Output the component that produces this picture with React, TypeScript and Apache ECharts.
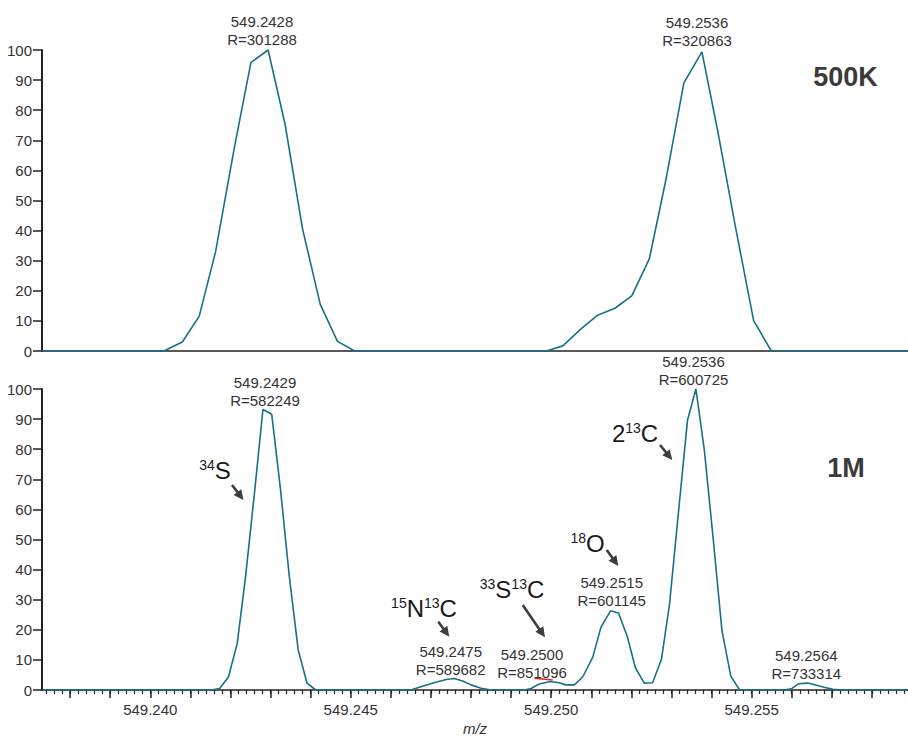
import React, { useEffect, useRef } from 'react';
import * as echarts from 'echarts';

const X_MIN = 549.2373;
const X_MAX = 549.2589;

// 500K spectrum (top)
const mz500K = [549.2373, 549.24034, 549.2408, 549.24122, 549.24163, 549.24209, 549.24251, 549.24294, 549.24336, 549.2438, 549.24424, 549.24467, 549.2451,
  549.24988, 549.25029, 549.25073, 549.25116, 549.25159, 549.25201, 549.25245, 549.25286, 549.25331, 549.25376, 549.25417, 549.2546, 549.25505, 549.25549, 549.2589];
const int500K = [0, 0, 3, 11.5, 33, 67, 95.8, 100, 75.5, 40.5, 15.5, 3.2, 0,
  0, 1.7, 7.2, 11.9, 14.2, 18.3, 30.7, 56.8, 89.1, 99.4, 72, 41, 10.1, 0, 0];

// 1M spectrum (bottom)
const mz1M = [549.2373, 549.24152, 549.24173, 549.24195, 549.24217, 549.24238, 549.2426, 549.24281, 549.24303, 549.24325, 549.24347, 549.24369, 549.24391, 549.24413,
  549.2465, 549.24675, 549.24708, 549.24738, 549.24758, 549.24779, 549.248, 549.24825, 549.2485,
  549.24933, 549.2495, 549.2497, 549.24998, 549.2502, 549.25037, 549.25058, 549.25079, 549.25104, 549.25124, 549.25148, 549.25168, 549.2519, 549.2521, 549.25232, 549.25253, 549.25275, 549.25295, 549.25316, 549.2534, 549.25361, 549.25382, 549.25404, 549.25426, 549.25448, 549.2547,
  549.25581, 549.25599, 549.25617, 549.2564, 549.25662, 549.25683, 549.25703, 549.25723, 549.2589];
const int1M = [0, 0, 0.5, 4.3, 15.5, 38, 65.5, 93.2, 91.6, 66.5, 37.5, 13.3, 2.3, 0,
  0, 1.1, 2.4, 3.5, 3.8, 3.0, 1.7, 0.6, 0,
  0, 0.5, 2.0, 2.8, 2.4, 1.7, 1.7, 4.4, 11, 20.8, 26.3, 25.6, 17.7, 7.4, 2.3, 2.4, 10.2, 28.3, 57, 89.6, 100, 79.7, 50.4, 19.7, 4.6, 0,
  0, 0.4, 2.1, 2.3, 1.6, 0.8, 0.2, 0, 0];

// red highlight segment
const redMz = [549.24958, 549.25004];
const redInt = [3.9, 3.3];

const xLabelValues = [549.24, 549.245, 549.25, 549.255];
const majorTickValues = [549.238, 549.239, 549.24, 549.241, 549.242, 549.243, 549.244, 549.245, 549.246, 549.247, 549.248, 549.249, 549.25, 549.251, 549.252, 549.253, 549.254, 549.255, 549.256, 549.257, 549.258];
const minorTickValues: number[] = [];
for (let i = 0; i < 200; i++) {
  const v = Math.round((549.2374 + i * 0.0002) * 1e4) / 1e4;
  if (v > X_MAX) break;
  minorTickValues.push(v);
}

const peakLabels500K = [
  { mz: '549.2428', r: 'R=301288', x: 262, y: 12 },
  { mz: '549.2536', r: 'R=320863', x: 697, y: 13.5 },
];
const peakLabels1M = [
  { mz: '549.2429', r: 'R=582249', x: 265, y: 373 },
  { mz: '549.2536', r: 'R=600725', x: 693.5, y: 352 },
  { mz: '549.2515', r: 'R=601145', x: 611.7, y: 573.5 },
  { mz: '549.2475', r: 'R=589682', x: 450.7, y: 642 },
  { mz: '549.2500', r: 'R=851096', x: 532, y: 645 },
  { mz: '549.2564', r: 'R=733314', x: 806.3, y: 646.5 },
];

const isotopeLabels = [
  { text: '{s|34}{b|S}', x: 215, y: 470 },
  { text: '{b|2}{s|13}{b|C}', x: 635, y: 433 },
  { text: '{s|18}{b|O}', x: 587.5, y: 543 },
  { text: '{s|15}{b|N}{s|13}{b|C}', x: 424, y: 608 },
  { text: '{s|33}{b|S}{s|13}{b|C}', x: 512, y: 589 },
];
const arrows = [
  [232, 485, 243.5, 500],
  [660, 445, 672.3, 460],
  [606.7, 550, 618.3, 566],
  [438.3, 621.7, 449.3, 636.7],
  [522.7, 605, 545, 637.3],
];

const FONT = '"Liberation Sans", Arial, Helvetica, sans-serif';
const LINE = '#17708a';
const AXIS = '#222';

function zip(a: number[], b: number[]) {
  return a.map((v, i) => [v, b[i]]);
}

function arrow(x1: number, y1: number, x2: number, y2: number) {
  const dx = x2 - x1, dy = y2 - y1;
  const L = Math.hypot(dx, dy);
  const ux = dx / L, uy = dy / L;
  const hl = 10, hw = 4.8;
  const bx = x2 - ux * hl, by = y2 - uy * hl;
  return [
    { type: 'line', shape: { x1, y1, x2: bx + ux, y2: by + uy }, style: { stroke: '#3d3d3d', lineWidth: 2.6 } },
    { type: 'polygon', shape: { points: [[x2, y2], [bx - uy * hw, by + ux * hw], [bx + uy * hw, by - ux * hw]] }, style: { fill: '#3d3d3d' } },
  ];
}

function yAxis(gridIndex: number) {
  return {
    type: 'value', gridIndex, min: 0, max: 100, interval: 10,
    axisLine: { show: true, lineStyle: { color: AXIS, width: 2 } },
    axisTick: { show: true, length: 9, lineStyle: { color: AXIS, width: 1.5 } },
    axisLabel: { color: '#333', fontSize: 15, margin: 10, fontFamily: FONT },
    splitLine: { show: false },
  };
}

export default function App() {
  const ref = useRef<HTMLDivElement>(null);
  useEffect(() => {
    document.body.style.margin = '0';
    const chart = echarts.init(ref.current!, null, { renderer: 'svg' });
    const graphics: any[] = [];
    [...peakLabels500K, ...peakLabels1M].forEach((p) => {
      graphics.push({
        type: 'text', x: p.x, y: p.y,
        style: { text: p.mz + '\n' + p.r, align: 'center', verticalAlign: 'top', lineHeight: 18, fontSize: 15, fontFamily: FONT, fill: '#333' },
      });
    });
    isotopeLabels.forEach((l) => {
      graphics.push({
        type: 'text', x: l.x, y: l.y,
        style: {
          text: l.text, align: 'center', verticalAlign: 'middle', fontFamily: FONT, fill: '#1a1a1a',
          rich: {
            s: { fontSize: 14, verticalAlign: 'top', fill: '#1a1a1a', fontFamily: FONT, lineHeight: 24 },
            b: { fontSize: 24, fill: '#1a1a1a', fontFamily: FONT, lineHeight: 24 },
          },
        },
      });
    });
    arrows.forEach((a) => graphics.push(...arrow(a[0], a[1], a[2], a[3])));
    graphics.push({ type: 'text', x: 845.5, y: 77, style: { text: '500K', align: 'center', verticalAlign: 'middle', fontSize: 27, fontWeight: 'bold', fontFamily: FONT, fill: '#3a3a3a' } });
    graphics.push({ type: 'text', x: 846, y: 468, style: { text: '1M', align: 'center', verticalAlign: 'middle', fontSize: 27, fontWeight: 'bold', fontFamily: FONT, fill: '#3a3a3a' } });

    chart.setOption({
      animation: false,
      textStyle: { fontFamily: FONT },
      grid: [
        { left: 42, right: 0, top: 50, height: 301, outerBoundsMode: 'none', containLabel: false },
        { left: 42, right: 0, top: 389, height: 301, outerBoundsMode: 'none', containLabel: false },
      ],
      xAxis: [
        {
          type: 'value', gridIndex: 0, min: X_MIN, max: X_MAX,
          axisLine: { show: true, onZero: false, lineStyle: { color: AXIS, width: 1.5 } },
          axisTick: { show: false }, axisLabel: { show: false }, splitLine: { show: false },
        },
        {
          type: 'value', gridIndex: 1, min: X_MIN, max: X_MAX, position: 'bottom',
          axisLine: { show: true, onZero: false, lineStyle: { color: AXIS, width: 1.5 } },
          axisTick: { show: true, customValues: majorTickValues, length: 8, lineStyle: { color: AXIS, width: 1.5 } },
          axisLabel: { show: true, customValues: xLabelValues, formatter: (v: number) => v.toFixed(3), color: '#333', fontSize: 15, margin: 12, fontFamily: FONT },
          splitLine: { show: false },
          name: 'm/z', nameLocation: 'middle', nameGap: 31,
          nameTextStyle: { fontStyle: 'italic', fontSize: 15, color: '#333', fontFamily: FONT },
        },
        {
          type: 'value', gridIndex: 1, min: X_MIN, max: X_MAX, position: 'bottom',
          axisLine: { show: false, onZero: false },
          axisTick: { show: true, customValues: minorTickValues, length: 4, lineStyle: { color: AXIS, width: 1.2 } },
          axisLabel: { show: false }, splitLine: { show: false },
        },
      ],
      yAxis: [yAxis(0), yAxis(1)],
      series: [
        {
          type: 'line', xAxisIndex: 0, yAxisIndex: 0, data: zip(mz500K, int500K),
          showSymbol: false, lineStyle: { color: LINE, width: 1.6 }, itemStyle: { color: LINE }, silent: true,
        },
        {
          type: 'line', xAxisIndex: 1, yAxisIndex: 1, data: zip(mz1M, int1M),
          showSymbol: false, lineStyle: { color: LINE, width: 1.6 }, itemStyle: { color: LINE }, silent: true,
        },
        {
          type: 'line', xAxisIndex: 1, yAxisIndex: 1, data: zip(redMz, redInt), z: 5,
          showSymbol: false, lineStyle: { color: '#d62728', width: 1.5 }, itemStyle: { color: '#d62728' }, silent: true,
        },
      ],
      graphic: graphics,
    });
    return () => chart.dispose();
  }, []);
  return <div ref={ref} style={{ width: 908, height: 737 }} />;
}
